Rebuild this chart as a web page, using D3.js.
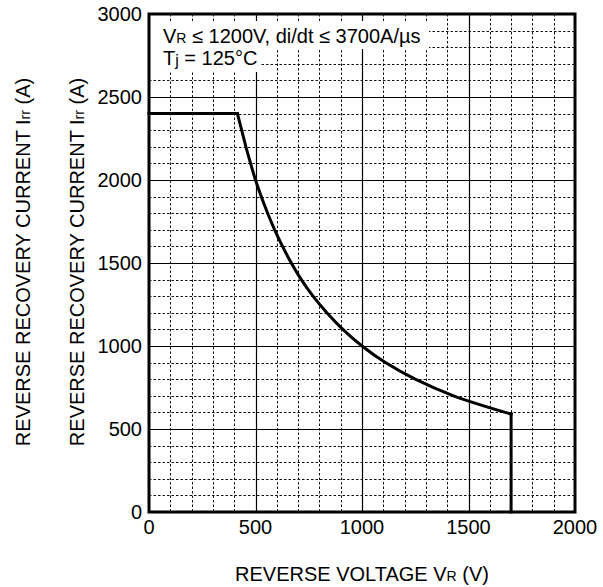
<!DOCTYPE html>
<html>
<head>
<meta charset="utf-8">
<script src="https://cdn.jsdelivr.net/npm/d3@7"></script>
<style>
  html, body { margin: 0; padding: 0; background: #fff; }
  svg { display: block; }
  text { font-family: "Liberation Sans", Arial, Helvetica, sans-serif; fill: #000; }
</style>
</head>
<body>
<svg id="chart" width="603" height="587"></svg>
<script>
// ---- data ----
const xTicks = [0, 500, 1000, 1500, 2000];
const yTicks = [0, 500, 1000, 1500, 2000, 2500, 3000];
const voltage = [0, 415, 435, 455, 477, 500, 527, 557, 590, 627, 668, 715, 770, 835, 910, 1000, 1110, 1250, 1430, 1700, 1700];
const current = [2400, 2400, 2300, 2200, 2100, 2000, 1900, 1800, 1700, 1600, 1500, 1400, 1300, 1200, 1100, 1000, 900, 800, 700, 590, 0];

// ---- layout ----
const svg = d3.select("#chart");
const pL = 149, pR = 575, pT = 14, pB = 512;
const x = d3.scaleLinear().domain([0, 2000]).range([pL, pR]);
const y = d3.scaleLinear().domain([0, 3000]).range([pB, pT]);

// minor grid (dotted)
const minorX = d3.range(100, 2000, 100).filter(v => v % 500 !== 0);
const minorY = d3.range(100, 3000, 100).filter(v => v % 500 !== 0);
const grid = svg.append("g");
grid.selectAll(".mx").data(minorX).join("line")
  .attr("x1", d => Math.round(x(d)) + 0.5).attr("x2", d => Math.round(x(d)) + 0.5)
  .attr("y1", pT).attr("y2", pB)
  .attr("stroke", "#111").attr("stroke-width", 1).attr("stroke-dasharray", "2.5,2");
grid.selectAll(".my").data(minorY).join("line")
  .attr("y1", d => Math.round(y(d)) + 0.5).attr("y2", d => Math.round(y(d)) + 0.5)
  .attr("x1", pL).attr("x2", pR)
  .attr("stroke", "#111").attr("stroke-width", 1).attr("stroke-dasharray", "2.5,2");
// major grid (solid)
grid.selectAll(".Mx").data(xTicks.slice(1, -1)).join("line")
  .attr("x1", d => Math.round(x(d)) + 0.5).attr("x2", d => Math.round(x(d)) + 0.5)
  .attr("y1", pT).attr("y2", pB)
  .attr("stroke", "#000").attr("stroke-width", 1.2);
grid.selectAll(".My").data(yTicks.slice(1, -1)).join("line")
  .attr("y1", d => Math.round(y(d)) + 0.5).attr("y2", d => Math.round(y(d)) + 0.5)
  .attr("x1", pL).attr("x2", pR)
  .attr("stroke", "#000").attr("stroke-width", 1.2);

// annotation boxes (white background)
svg.append("rect").attr("x", pL + 1).attr("y", 21).attr("width", 279).attr("height", 28).attr("fill", "#fff");
svg.append("rect").attr("x", pL + 1).attr("y", 49).attr("width", 110).attr("height", 23).attr("fill", "#fff");

const t1 = svg.append("text").attr("x", 163).attr("y", 43).attr("font-size", 20);
t1.append("tspan").text("V");
t1.append("tspan").attr("font-size", 14).text("R");
t1.append("tspan").text(" \u2264 1200V, di/dt \u2264 3700A/\u00B5s");

const t2 = svg.append("text").attr("x", 163).attr("y", 65).attr("font-size", 20);
t2.append("tspan").text("T");
t2.append("tspan").attr("font-size", 16).attr("dy", 1).text("j");
t2.append("tspan").attr("dy", -1).text(" = 125\u00B0C");

// curve
const pts = voltage.map((v, i) => [v, current[i]]);
const flat = pts.slice(0, 2);
const smooth = pts.slice(1, pts.length - 1);
const drop = pts.slice(pts.length - 2);
const lin = d3.line().x(d => x(d[0])).y(d => y(d[1]));
const crv = d3.line().x(d => x(d[0])).y(d => y(d[1])).curve(d3.curveCatmullRom.alpha(0.5));
[ [flat, lin], [smooth, crv], [drop, lin] ].forEach(([d, g]) => {
  svg.append("path").attr("d", g(d)).attr("fill", "none")
    .attr("stroke", "#000").attr("stroke-width", 3)
    .attr("stroke-linejoin", "round").attr("stroke-linecap", "square");
});

// frame
svg.append("rect").attr("x", pL).attr("y", pT).attr("width", pR - pL).attr("height", pB - pT)
  .attr("fill", "none").attr("stroke", "#000").attr("stroke-width", 3);

// tick labels
svg.selectAll(".xt").data(xTicks).join("text")
  .attr("x", d => x(d)).attr("y", 534).attr("text-anchor", "middle").attr("font-size", 20)
  .text(d => d);
svg.selectAll(".yt").data(yTicks).join("text")
  .attr("x", 142).attr("y", d => y(d) + 7).attr("text-anchor", "end").attr("font-size", 20)
  .text(d => d);

// axis titles
const xl = svg.append("text").attr("x", 362).attr("y", 581).attr("text-anchor", "middle").attr("font-size", 20);
xl.append("tspan").text("REVERSE VOLTAGE V");
xl.append("tspan").attr("font-size", 14).text("R");
xl.append("tspan").text(" (V)");

[30, 84].forEach(bx => {
  const yl = svg.append("text").attr("transform", `translate(${bx},262) rotate(-90)`)
    .attr("text-anchor", "middle").attr("font-size", 20);
  yl.append("tspan").text("REVERSE RECOVERY CURRENT I");
  yl.append("tspan").attr("font-size", 14).text("rr");
  yl.append("tspan").text(" (A)");
});
</script>
</body>
</html>
